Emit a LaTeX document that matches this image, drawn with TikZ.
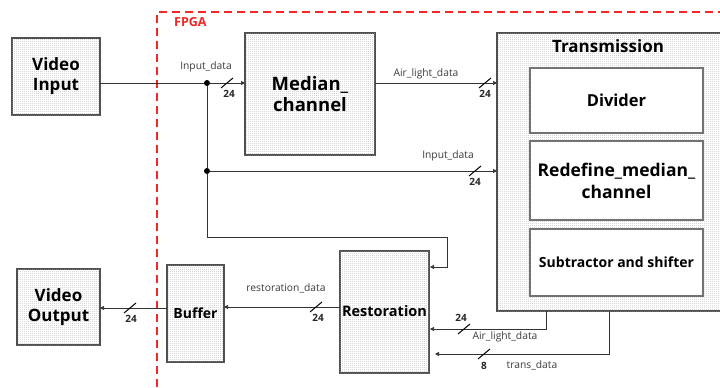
\documentclass[tikz,border=0pt]{standalone}
\usepackage{fontspec}
\setmainfont{Open Sans}
\usetikzlibrary{arrows.meta,patterns.meta}
\pgfdeclarepattern{
  name=finedots,
  type=uncolored,
  bottom left={\pgfpoint{0pt}{0pt}},
  top right={\pgfpoint{2pt}{2pt}},
  tile size={\pgfpoint{2pt}{2pt}},
  code={\pgfpathrectangle{\pgfpoint{0.5pt}{0.5pt}}{\pgfpoint{0.9pt}{0.9pt}}\pgfusepath{fill}}
}
\definecolor{fpgared}{RGB}{240,40,40}
\definecolor{edge}{RGB}{80,80,80}
\definecolor{lbl}{RGB}{60,60,60}
\tikzset{
  block/.style={draw=edge, line width=1.1pt, fill=white, postaction={pattern=finedots, pattern color=gray!75}},
  inner/.style={draw=edge!80, line width=1.1pt, fill=white},
  title/.style={font=\bfseries, text=black, align=center},
  wire/.style={draw=black!80, line width=0.7pt},
  flow/.style={wire, -{Triangle[length=4pt,width=4pt]}},
  jdot/.style={circle, fill=black, inner sep=0pt, minimum size=6pt},
  sig/.style={font=\fontsize{10.3}{11}\selectfont, text=lbl, inner sep=1pt},
  bits/.style={font=\bfseries\fontsize{10}{11}\selectfont, text=black!85, inner sep=1pt},
  busmark/.style={draw=black, line width=1pt}
}
\newcommand{\busslash}[2]{\draw[busmark] (#1-6,#2+5) -- (#1+6,#2-5);}
\begin{document}
\begin{tikzpicture}[x=1pt,y=-1pt]
\clip (0,0) rectangle (720,388);
\fill[white] (0,0) rectangle (720,388);

% FPGA region
\draw[fpgared, line width=1.4pt, dash pattern=on 8pt off 5pt] (157,400) -- (157,12) -- (740,12);
\node[text=fpgared, font=\bfseries\fontsize{12.5}{12}\selectfont, anchor=west, inner sep=0pt] (fpga) at (174,22) {FPGA};

% blocks
\draw[block] (12,38) rectangle (100,115);
\node[title, font=\bfseries\fontsize{17}{20}\selectfont] (vin) at (56,76.5) {Video\\Input};

\draw[block] (245,33) rectangle (375,155);
\node[title, font=\bfseries\fontsize{18.5}{21}\selectfont] (med) at (310,94) {Median\_\\channel};

\draw[block] (497,33) rectangle (740,311);
\node[title, font=\bfseries\fontsize{17}{19}\selectfont] (tx) at (608,46) {Transmission};

\draw[inner] (530,68) rectangle (703,133);
\node[title, font=\bfseries\fontsize{16.5}{19}\selectfont] (div) at (616.5,100.5) {Divider};
\draw[inner] (530,141) rectangle (703,220);
\node[title, font=\bfseries\fontsize{17.5}{22}\selectfont] (redef) at (616.5,180.5) {Redefine\_median\_\\channel};
\draw[inner] (530,229) rectangle (703,296);
\node[title, font=\bfseries\fontsize{14}{16}\selectfont] (sub) at (616.5,262.5) {Subtractor and shifter};

\draw[block] (340,251) rectangle (429,373);
\node[title, font=\bfseries\fontsize{14.5}{16}\selectfont] (rest) at (384.5,311) {Restoration};

\draw[block] (167,265) rectangle (224,362);
\node[title, font=\bfseries\fontsize{14}{16}\selectfont] (buf) at (195.5,313) {Buffer};

\draw[block] (17,269) rectangle (100,345);
\node[title, font=\bfseries\fontsize{17}{20}\selectfont] (vout) at (58.5,307) {Video\\Output};

% junctions
\node[jdot] (j1) at (207,83) {};
\node[jdot] (j2) at (207,171) {};
\coordinate (vinE) at (100,83);
\coordinate (medW) at (245,83);
\coordinate (medE) at (375,83);
\coordinate (txW1) at (497,83);
\coordinate (txW2) at (497,171);
\coordinate (loopA) at (207,237);
\coordinate (loopB) at (447,237);
\coordinate (loopC) at (447,267);
\coordinate (restE1) at (430,267);
\coordinate (txB1) at (546,311);
\coordinate (txB2) at (609,311);
\coordinate (restE2) at (430,329);
\coordinate (restE3) at (435,354);
\coordinate (restW) at (340,307);
\coordinate (bufE) at (224,307);
\coordinate (bufW) at (167,308);
\coordinate (voutE) at (100,308);

% connectors
\draw[wire] (vinE) -- (j1);
\draw[flow] (j1) -- (medW);
\draw[flow] (medE) -- (txW1);
\draw[wire] (j1) -- (j2);
\draw[flow] (j2) -- (txW2);
\draw[flow] (j2) -- (loopA) -- (loopB) -- (loopC) -- (restE1);
\draw[flow] (txB1) |- (restE2);
\draw[flow] (txB2) |- (restE3);
\draw[flow] (restW) -- (bufE);
\draw[flow] (bufW) -- (voutE);

% bus widths
\busslash{227}{83}
\node[bits] (b1) at (229,94) {24};
\node[sig] (s1) at (206,67) {Input\_data};

\busslash{485}{83}
\node[bits] (b2) at (485,94) {24};
\node[sig] (s2) at (426,74) {Air\_light\_data};

\busslash{475}{171}
\node[bits] (b3) at (475,182) {24};
\node[sig] (s3) at (448,156) {Input\_data};

\busslash{316}{307}
\node[bits] (b4) at (318,318) {24};
\node[sig] (s4) at (286,288) {restoration\_data};

\busslash{130}{308}
\node[bits] (b5) at (131,319) {24};

\busslash{464}{329}
\node[bits] (b6) at (461,318) {24};
\node[sig] (s6) at (505,337) {Air\_light\_data};

\busslash{484}{354}
\node[bits] (b7) at (484,366) {8};
\node[sig] (s7) at (532,365) {trans\_data};
\end{tikzpicture}
\end{document}
